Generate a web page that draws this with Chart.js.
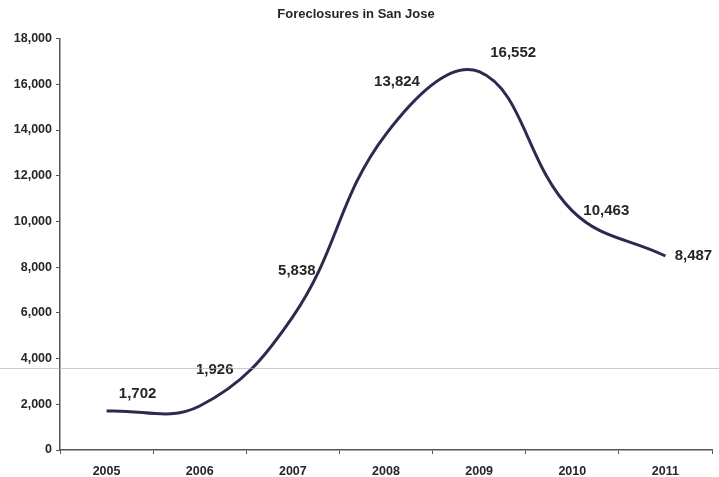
<!DOCTYPE html>
<html>
<head>
<meta charset="utf-8">
<title>Foreclosures in San Jose</title>
<script src="https://cdn.jsdelivr.net/npm/chart.js@4"></script>
<style>
  html, body { margin: 0; padding: 0; background: #ffffff; }
  #wrap { position: relative; width: 719px; height: 477px; }
</style>
</head>
<body>
<div id="wrap"><canvas id="chart" width="719" height="477"></canvas></div>
<script>
// Annual foreclosures, San Jose
const years = ['2005', '2006', '2007', '2008', '2009', '2010', '2011'];
const foreclosures = [1702, 1926, 5838, 13824, 16552, 10463, 8487];
const yTicks = [0, 2000, 4000, 6000, 8000, 10000, 12000, 14000, 16000, 18000];

const fmt = v => v.toString().replace(/\B(?=(\d{3})+(?!\d))/g, ',');
const FONT = '"Liberation Sans", Arial, sans-serif';
const TEXT = '#262626';

// value labels, nudged off the curve
const labelOffsets = [[31, -17], [15, -36], [4, -46], [11, -52], [34, -19], [34, 0], [28, 0]];

const valueLabels = {
  id: 'valueLabels',
  afterDatasetsDraw(chart) {
    const ctx = chart.ctx;
    const meta = chart.getDatasetMeta(0);
    const data = chart.data.datasets[0].data;
    ctx.save();
    ctx.font = 'bold 15px ' + FONT;
    ctx.fillStyle = TEXT;
    ctx.textAlign = 'center';
    ctx.textBaseline = 'middle';
    meta.data.forEach((pt, i) => {
      const o = labelOffsets[i] || [0, -16];
      ctx.fillText(fmt(data[i]), pt.x + o[0], pt.y + o[1]);
    });
    ctx.restore();
  }
};

// light horizontal rule running across the sheet
const sheetRule = {
  id: 'sheetRule',
  afterDraw(chart) {
    const ctx = chart.ctx;
    ctx.save();
    ctx.strokeStyle = 'rgba(170,170,170,0.6)';
    ctx.lineWidth = 1;
    ctx.beginPath();
    ctx.moveTo(0, 368.5);
    ctx.lineTo(chart.width, 368.5);
    ctx.stroke();
    ctx.restore();
  }
};

new Chart(document.getElementById('chart'), {
  type: 'line',
  data: {
    labels: years,
    datasets: [{
      data: foreclosures,
      borderColor: '#2b2b4d',
      borderWidth: 3,
      tension: 0.4,
      pointRadius: 0,
      fill: false
    }]
  },
  options: {
    responsive: false,
    animation: false,
    layout: { padding: { left: 0, right: 7, top: 0, bottom: 0 } },
    plugins: {
      legend: { display: false },
      tooltip: { enabled: false },
      title: {
        display: true,
        text: 'Foreclosures in San Jose',
        color: TEXT,
        font: { family: FONT, size: 13, weight: 'bold' },
        padding: { top: 7, bottom: 16 }
      }
    },
    scales: {
      x: {
        offset: true,
        grid: {
          display: true,
          offset: true,
          drawOnChartArea: false,
          drawTicks: true,
          tickLength: 4,
          color: '#555555',
          lineWidth: 1
        },
        border: { display: true, color: '#555555', width: 1.5 },
        ticks: {
          color: TEXT,
          padding: 10,
          maxRotation: 0,
          font: { family: FONT, size: 12.5, weight: 'bold' }
        },
        afterFit(scale) { scale.height = 27; }
      },
      y: {
        min: 0,
        max: 18000,
        afterBuildTicks(scale) { scale.ticks = yTicks.map(v => ({ value: v })); },
        grid: {
          display: true,
          drawOnChartArea: false,
          drawTicks: true,
          tickLength: 4,
          color: '#555555',
          lineWidth: 1
        },
        border: { display: true, color: '#555555', width: 1.5 },
        ticks: {
          color: TEXT,
          padding: 4,
          font: { family: FONT, size: 12.5, weight: 'bold' },
          callback: v => fmt(v)
        },
        afterFit(scale) { scale.width = 60; }
      }
    }
  },
  plugins: [valueLabels, sheetRule]
});
</script>
</body>
</html>
